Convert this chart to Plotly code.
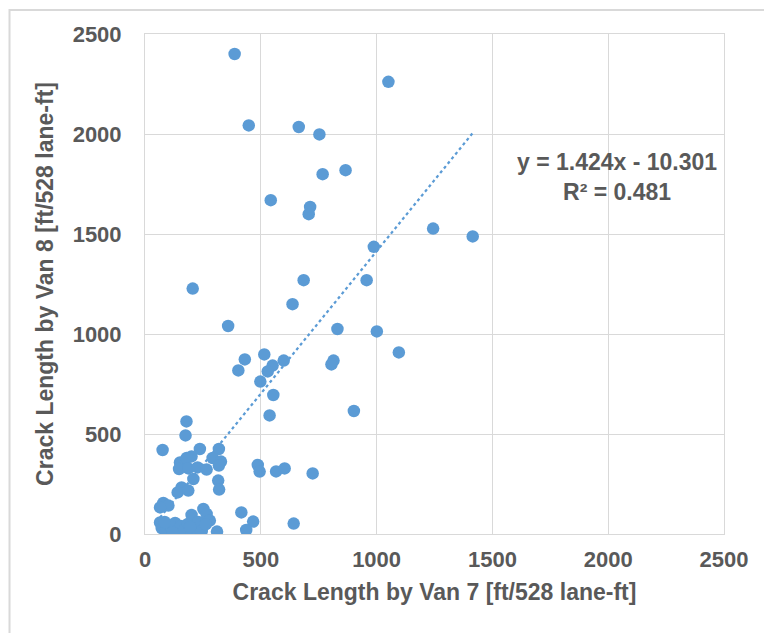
import plotly.graph_objects as go

# Crack length per 528 lane-ft section, Van 7 (x) vs Van 8 (y)
van7 = [387, 1051, 448, 664, 753, 866, 767, 543, 713, 707, 1244, 1415, 988, 957, 685,
        206, 637, 359, 831, 1001, 1096, 515, 431, 814, 599, 805, 551, 530, 403, 498,
        554, 902, 538, 179, 175, 76, 237, 319, 292, 328, 319, 487, 495, 566, 603,
        724, 316, 320, 416, 467, 437, 642, 311,
        151, 201, 180, 147, 187, 227, 266, 209, 158, 141, 187, 79, 101, 65, 252, 201,
        266, 280,
        65, 72, 90, 100, 115, 130, 140, 155, 170, 185, 200, 215, 230, 245, 262, 195,
        120, 85]
van8 = [2400, 2261, 2043, 2035, 1998, 1819, 1799, 1669, 1635, 1599, 1527, 1488, 1436,
        1269, 1269, 1227, 1149, 1040, 1025, 1013, 908, 898, 873, 867, 867, 848, 842,
        813, 818, 762, 695, 615, 593, 563, 493, 420, 425, 425, 380, 362, 342, 345,
        312, 313, 328, 303, 267, 222, 108, 62, 20, 52, 12,
        358, 388, 380, 325, 328, 333, 322, 275, 233, 208, 217, 155, 142, 133, 125, 95,
        100, 67,
        58, 30, 12, 45, 25, 55, 15, 40, 20, 50, 10, 30, 60, 15, 48, 35,
        8, 60]

# Linear trendline y = 1.424x - 10.301
slope = 1.424
intercept = -10.301
r_squared = 0.481
x_fit = [min(van7), max(van7)]
y_fit = [slope * v + intercept for v in x_fit]

axis_ticks = [0, 500, 1000, 1500, 2000, 2500]

blue = "#5B9BD5"
grey_text = "#595959"
grid = "#D9D9D9"
font_family = "Liberation Sans, Arial, sans-serif"

fig = go.Figure()
fig.add_trace(go.Scatter(x=x_fit, y=y_fit, mode="lines",
                         line=dict(color=blue, width=2.25, dash="dot"),
                         hoverinfo="skip", showlegend=False))
fig.add_trace(go.Scatter(x=van7, y=van8, mode="markers",
                         marker=dict(color=blue, size=12.5, line=dict(width=0)),
                         showlegend=False))

axis_common = dict(
    range=[0, 2500], tickvals=axis_ticks, showgrid=True, gridcolor=grid, gridwidth=1,
    showline=True, linecolor=grid, linewidth=1, mirror=True, zeroline=False,
    ticks="", tickfont=dict(family=font_family, size=22, color=grey_text, weight="bold"),
)
title_font = dict(family=font_family, size=23, color=grey_text, weight="bold")
fig.update_xaxes(**axis_common, ticklabelstandoff=6,
                 title=dict(text="Crack Length by Van 7 [ft/528 lane-ft]",
                            font=title_font, standoff=12))
fig.update_yaxes(**axis_common, ticklabelstandoff=18,
                 title=dict(text="Crack Length by Van 8 [ft/528 lane-ft]",
                            font=title_font, standoff=12))

fig.add_annotation(xref="x", yref="y", x=2038, y=1787, showarrow=False,
                   text=f"y = {slope}x - {abs(intercept)}<br>R² = {r_squared}",
                   align="center",
                   font=dict(family=font_family, size=23, color=grey_text, weight="bold"))

# outer chart frame
fig.add_shape(type="rect", xref="paper", yref="paper",
              x0=-0.234, x1=1.2, y0=-0.3, y1=1.048,
              line=dict(color=grid, width=2), fillcolor="rgba(0,0,0,0)", layer="below")

fig.update_layout(
    width=764, height=633,
    margin=dict(l=145, r=40, t=34, b=99),
    paper_bgcolor="white", plot_bgcolor="white",
)

fig.write_html("out.html")
